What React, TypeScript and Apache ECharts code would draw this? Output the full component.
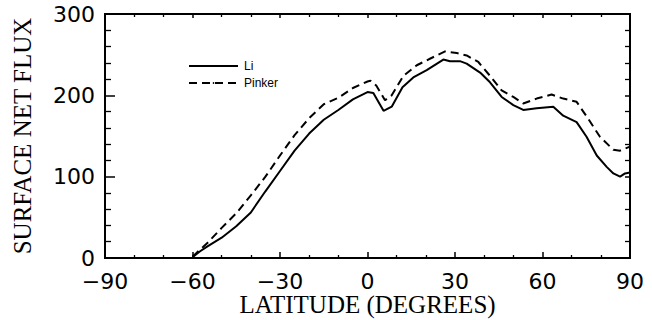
import React, { useEffect, useRef } from "react";
import * as echarts from "echarts";

const liLat = [-60, -57.5, -55, -50, -45, -40, -35, -30, -25, -20, -15, -10, -5, 0, 2, 5.5, 8.3, 12, 15.7, 20.3, 26, 28.3, 31.7, 34, 38.6, 42, 46, 50, 53.4, 58, 63.7, 67.1, 71.7, 75.1, 78.6, 82, 84.3, 86.6, 88.3, 90];
const liVal = [1, 8, 14, 25, 39, 56, 82, 107, 132, 153, 170, 182, 195, 204, 203, 181, 186, 210, 222, 231, 244, 242, 242, 239, 228, 216, 198, 188, 182, 184, 186, 175, 167, 149, 126, 112, 104, 100, 104, 105];

const pinkerLat = [-60, -59, -55, -50, -45, -40, -35, -30, -25, -20, -15, -10, -5, 0, 1, 3, 6, 8.3, 12.3, 16.9, 21.4, 26.6, 30.6, 34, 38, 42, 46, 50, 53.4, 58, 63.1, 67.1, 71.7, 75.7, 79.7, 84.3, 86.6, 90];
const pinkerVal = [2, 5, 18, 37, 55, 77, 100, 126, 151, 172, 189, 197, 209, 217, 218, 212, 194, 200, 224, 237, 245, 254, 252, 249, 241, 224, 206, 198, 190, 196, 201, 196, 192, 171, 149, 133, 132, 137];

const seriesNames = ["Li", "Pinker"];
const xTicks = { min: -90, max: 90, interval: 30, minorSplit: 3 };
const yTicks = { min: 0, max: 300, interval: 100, minorSplit: 5 };

export default function App() {
  const ref = useRef<HTMLDivElement>(null);
  useEffect(() => {
    if (!ref.current) return;
    const chart = echarts.init(ref.current, undefined, { renderer: "svg" });
    const tickFont = { fontFamily: "DejaVu Sans", fontSize: 22, color: "#000" };
    const nameFont = { fontFamily: "Liberation Serif", fontSize: 25, color: "#000" };
    const mk = (t: any, pos: string, len: number, minorLen: number, labels: boolean) => ({
      type: "value",
      position: pos,
      min: t.min,
      max: t.max,
      interval: t.interval,
      axisLine: { show: true, onZero: false, lineStyle: { color: "#000", width: 2 } },
      axisTick: { show: true, inside: true, length: len, lineStyle: { color: "#000", width: 1.5 } },
      minorTick: { show: true, length: minorLen, splitNumber: t.minorSplit, lineStyle: { color: "#000", width: 1.3 } },
      splitLine: { show: false },
      axisLabel: { show: labels },
    });
    const xBottom: any = mk(xTicks, "bottom", 6, 3, true);
    xBottom.axisLine = { show: true, lineStyle: { color: "#000", width: 2 } };
    xBottom.axisLabel = {
      show: true,
      ...tickFont,
      margin: 12,
      formatter: (v: number) => String(v).replace("-", "\u2212"),
    };
    xBottom.name = "LATITUDE (DEGREES)";
    xBottom.nameLocation = "middle";
    xBottom.nameGap = 34;
    xBottom.nameMoveOverlap = false;
    xBottom.nameTextStyle = nameFont;

    const yLeft: any = mk(yTicks, "left", 10, 6, true);
    yLeft.axisLabel = { show: true, ...tickFont, margin: 10 };
    yLeft.name = "SURFACE NET FLUX";
    yLeft.nameLocation = "middle";
    yLeft.nameRotate = 90;
    yLeft.nameGap = 70;
    yLeft.nameMoveOverlap = false;
    yLeft.nameTextStyle = nameFont;

    chart.setOption({
      animation: false,
      backgroundColor: "#fff",
      grid: {
        left: 105,
        right: 22,
        top: 14,
        bottom: 62,
        containLabel: false,
        outerBoundsMode: "none",
        show: true,
        borderColor: "#000",
        borderWidth: 2,
        backgroundColor: "transparent",
      },
      legend: {
        show: true,
        orient: "vertical",
        left: 183,
        top: 54,
        itemWidth: 49,
        itemHeight: 2,
        itemGap: 3,
        data: seriesNames,
        textStyle: { fontFamily: "Liberation Sans", fontSize: 12, lineHeight: 14, color: "#000", padding: [0, 0, 0, 1] },
      },
      xAxis: [xBottom, mk(xTicks, "top", 4, 3, false)],
      yAxis: [yLeft, mk(yTicks, "right", 5, 5, false)],
      series: [
        {
          name: seriesNames[0],
          type: "line",
          xAxisIndex: 0,
          yAxisIndex: 0,
          data: liLat.map((x, i) => [x, liVal[i]]),
          symbol: "none",
          lineStyle: { color: "#000", width: 2, type: "solid" },
          itemStyle: { color: "#000" },
        },
        {
          name: seriesNames[1],
          type: "line",
          xAxisIndex: 0,
          yAxisIndex: 0,
          data: pinkerLat.map((x, i) => [x, pinkerVal[i]]),
          symbol: "none",
          lineStyle: { color: "#000", width: 2, type: [8, 5] },
          itemStyle: { color: "#000" },
        },
      ],
    });
    return () => chart.dispose();
  }, []);
  return <div ref={ref} style={{ position: "fixed", left: 0, top: 0, width: 652, height: 320, background: "#fff" }} />;
}
